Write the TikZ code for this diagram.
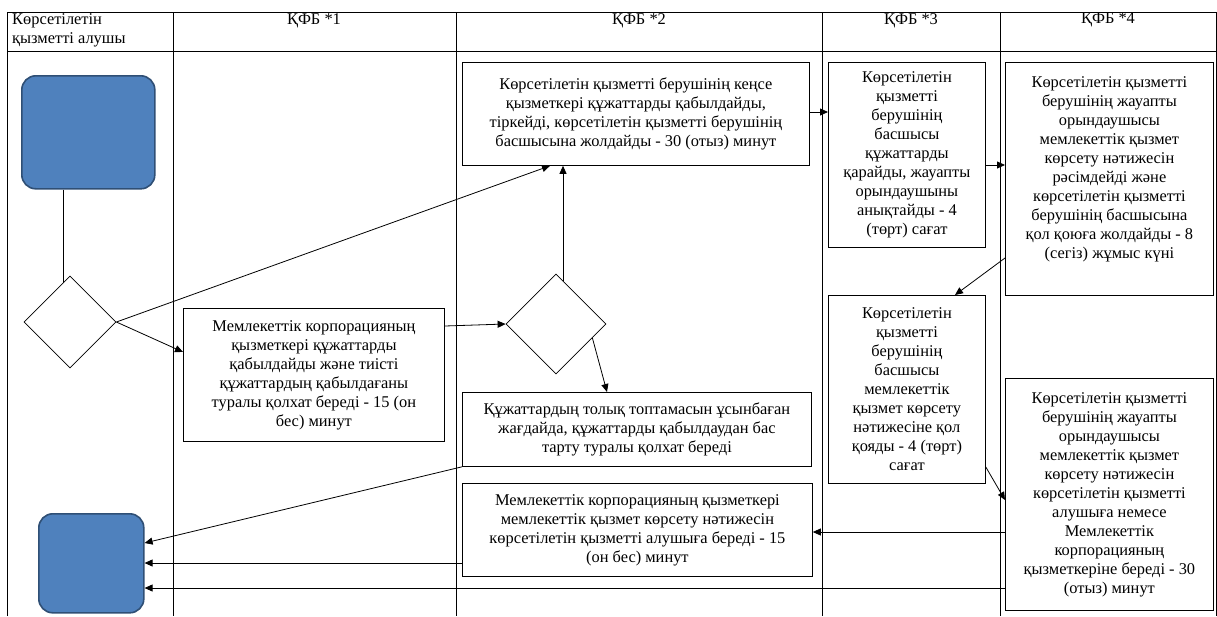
\documentclass[tikz,border=0pt]{standalone}
\usepackage{fontspec}
\setmainfont{Liberation Serif}
\usetikzlibrary{arrows.meta,shapes.geometric}
\definecolor{bluefill}{HTML}{4F81BD}
\definecolor{blueedge}{HTML}{2F4F75}
\tikzset{
  proc/.style={draw, line width=0.8pt, fill=white, align=center, inner sep=2pt,
    anchor=north west, font=\fontsize{16.4}{19}\selectfont},
  term/.style={draw=blueedge, line width=1.6pt, fill=bluefill, rounded corners=14pt, anchor=north west},
  decision/.style={draw, line width=0.8pt, diamond, aspect=1, inner sep=0pt, minimum width=92pt, minimum height=92pt},
  conn/.style={line width=0.8pt},
  arr/.style={line width=0.8pt, -{Triangle[length=8pt,width=7pt]}},
  grid/.style={line width=1pt},
  hdr/.style={font=\fontsize{16.4}{19}\selectfont, anchor=north}
}
\begin{document}
\begin{tikzpicture}[x=1pt,y=-1pt]
\useasboundingbox (0,0) rectangle (1217,616);
% table
\draw[grid] (7,616) -- (7,12) -- (1216,12) -- (1216,616);
\draw[grid] (7,51) -- (1216,51);
\foreach \cx in {173,456,822,1000} \draw[grid] (\cx,12) -- (\cx,616);
% headers
\node[font=\fontsize{16.4}{19.5}\selectfont, anchor=north west, align=left, inner sep=0pt] (h0) at (12,13) {Көрсетілетін\\қызметті алушы};
\node[hdr, inner sep=0pt] (h1) at (314,13) {ҚФБ *1};
\node[hdr, inner sep=0pt] (h2) at (639,13) {ҚФБ *2};
\node[hdr, inner sep=0pt] (h3) at (911,13) {ҚФБ *3};
\node[hdr, inner sep=0pt] (h4) at (1108,13) {ҚФБ *4};
% terminators
\node[term, minimum width=133pt, minimum height=113pt] (start) at (21,75) {};
\node[term, minimum width=105pt, minimum height=99pt] (end) at (38,513) {};
% decisions
\node[decision] (d1) at (70,322) {};
\node[decision, minimum width=100pt, minimum height=100pt] (d2) at (556,324) {};
% process boxes
\node[proc, minimum width=347pt, minimum height=103pt] (k2a) at (462,62)
  {Көрсетілетін қызметті берушінің кеңсе\\қызметкері құжаттарды қабылдайды,\\тіркейді, көрсетілетін қызметті берушінің\\басшысына жолдайды - 30 (отыз) минут};
\node[proc, minimum width=157pt, minimum height=185pt] (k3a) at (828,62)
  {Көрсетілетін\\қызметті\\берушінің\\басшысы\\құжаттарды\\қарайды, жауапты\\орындаушыны\\анықтайды - 4\\(төрт) сағат};
\node[proc, minimum width=208pt, minimum height=233pt] (k4a) at (1005,62)
  {Көрсетілетін қызметті\\берушінің жауапты\\орындаушысы\\мемлекеттік қызмет\\көрсету нәтижесін\\рәсімдейді және\\көрсетілетін қызметті\\берушінің басшысына\\қол қоюға жолдайды - 8\\(сегіз) жұмыс күні\\[3pt]\mbox{}};
\node[proc, minimum width=261pt, minimum height=133pt] (k1) at (183,308)
  {Мемлекеттік корпорацияның\\қызметкері құжаттарды\\қабылдайды және тиісті\\құжаттардың қабылдағаны\\туралы қолхат береді - 15 (он\\бес) минут};
\node[proc, minimum width=349pt, minimum height=74pt] (k2b) at (462,392)
  {Құжаттардың толық топтамасын ұсынбаған\\жағдайда, құжаттарды қабылдаудан бас\\тарту туралы қолхат береді};
\node[proc, minimum width=157pt, minimum height=188pt] (k3b) at (828,295)
  {Көрсетілетін\\қызметті\\берушінің\\басшысы\\мемлекеттік\\қызмет көрсету\\нәтижесіне қол\\қояды - 4 (төрт)\\сағат};
\node[proc, minimum width=208pt, minimum height=232pt] (k4b) at (1005,378)
  {Көрсетілетін қызметті\\берушінің жауапты\\орындаушысы\\мемлекеттік қызмет\\көрсету нәтижесін\\көрсетілетін қызметті\\алушыға немесе\\Мемлекеттік\\корпорацияның\\қызметкеріне береді - 30\\(отыз) минут};
\node[proc, minimum width=350pt, minimum height=93pt] (k2c) at (462,483)
  {Мемлекеттік корпорацияның қызметкері\\мемлекеттік қызмет көрсету нәтижесін\\көрсетілетін қызметті алушыға береді - 15\\(он бес) минут};
% connectors
\draw[conn] (start.south -| 63,0) -- (63,283);
\draw[arr] (d1.east) -- (k2a.south west -| 550,0);
\draw[arr] (d1.east) -- (k1.west |- 0,352);
\draw[arr] (k1.east |- 0,326) -- (d2.west);
\draw[arr] (d2.north) ++(7,7) -- (k2a.south -| 563,0);
\draw[arr] (d2.east) ++(-14,14) -- (k2b.north -| 607,0);
\draw[arr] (k2a.east |- 0,112) -- (k3a.west |- 0,112);
\draw[arr] (k3a.east |- 0,165) -- (k4a.west |- 0,165);
\draw[arr] (k4a.west |- 0,258) -- (k3b.north -| 955,0);
\draw[arr] (k3b.east |- 0,467) -- (k4b.west |- 0,500);
\draw[arr] (k4b.west |- 0,532) -- (k2c.east |- 0,532);
\draw[arr] (k2b.south west) -- (end.east |- 0,543);
\draw[arr] (k2c.west |- 0,563) -- (end.east |- 0,563);
\draw[arr] (k4b.west |- 0,588) -- (end.east |- 0,588);
\end{tikzpicture}
\end{document}
